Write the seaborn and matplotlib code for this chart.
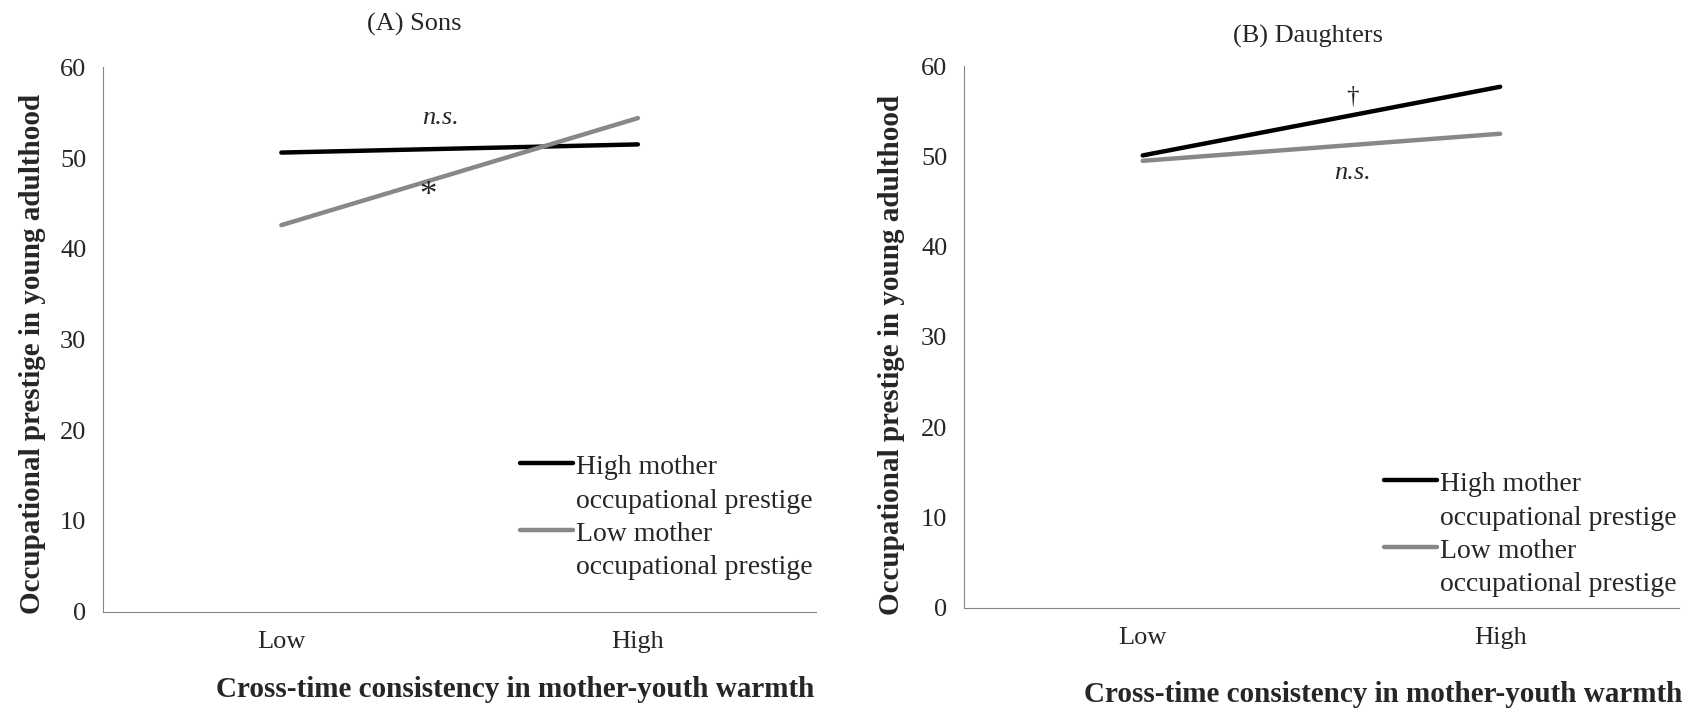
import matplotlib
matplotlib.use("Agg")
import matplotlib.pyplot as plt
import pandas as pd
import seaborn as sns
from matplotlib.legend_handler import HandlerLine2D

# data
warmth = ["Low", "High"]
groups = ["High mother\noccupational prestige", "Low mother\noccupational prestige"]
sons_high = [50.6, 51.5]
sons_low = [42.6, 54.4]
daughters_high = [50.1, 57.7]
daughters_low = [49.5, 52.5]
yticks = [0, 10, 20, 30, 40, 50, 60]

sns.set_style("white")
plt.rcParams["font.family"] = ["Liberation Serif", "DejaVu Serif"]

axis_grey = "#868686"
palette = {groups[0]: "black", groups[1]: "#888888"}


class FirstLineHandler(HandlerLine2D):
    # Excel puts the legend key next to the first line of a wrapped label
    def create_artists(self, legend, orig_handle, xdescent, ydescent, width, height, fontsize, trans):
        artists = super().create_artists(legend, orig_handle, xdescent, ydescent, width, height,
                                         fontsize, trans)
        for a in artists:
            a.set_ydata(a.get_ydata() + fontsize * 0.76)
        return artists


def make_df(high, low):
    return pd.DataFrame({
        "warmth": warmth * 2,
        "prestige": high + low,
        "group": [groups[0]] * 2 + [groups[1]] * 2,
    })


fig = plt.figure(figsize=(17.01, 7.12), dpi=100)
ax1 = fig.add_axes([0.0606, 0.1409, 0.4192, 0.7646])
ax2 = fig.add_axes([0.5667, 0.1461, 0.4203, 0.7612])

panels = [
    (ax1, make_df(sons_high, sons_low), "(A) Sons", (0.436, 1.078), (0.578, -0.143), (-0.0996, 0.473),
     (520, 455)),
    (ax2, make_df(daughters_high, daughters_low), "(B) Daughters", (0.481, 1.054), (0.587, -0.16),
     (-0.1007, 0.467), (1384, 472)),
]

for ax, df, title, tpos, xlpos, ylpos, legpos in panels:
    sns.lineplot(data=df, x="warmth", y="prestige", hue="group", palette=palette,
                 linewidth=3.2, ax=ax, sort=False)
    ax.set_xlim(-0.5, 1.5)
    ax.set_ylim(0, 60)
    ax.set_yticks(yticks)
    ax.set_xticks([0, 1])
    ax.set_xticks([-0.5, 0.5, 1.5], minor=True)
    ax.tick_params(axis="x", which="major", length=0, labelsize=19, pad=14)
    ax.tick_params(axis="x", which="minor", length=6, width=0.8, color=axis_grey, direction="out")
    ax.tick_params(axis="y", length=6, width=0.8, color=axis_grey, direction="out", labelsize=19, pad=6)
    for side in ["top", "right"]:
        ax.spines[side].set_visible(False)
    for side in ["left", "bottom"]:
        ax.spines[side].set_color(axis_grey)
        ax.spines[side].set_linewidth(0.8)

    ax.set_title(title, fontsize=19, x=tpos[0], y=tpos[1], va="center", pad=0)
    ax.set_xlabel("Cross-time consistency in mother-youth warmth", fontsize=21, fontweight="bold")
    ax.xaxis.set_label_coords(*xlpos)
    ax.xaxis.label.set_va("center")
    ax.set_ylabel("Occupational prestige in young adulthood", fontsize=21, fontweight="bold")
    ax.yaxis.set_label_coords(*ylpos)
    ax.yaxis.label.set_va("center")

    handles, labels = ax.get_legend_handles_labels()
    leg = ax.legend(handles, labels, loc="upper left", frameon=False, fontsize=20,
                    bbox_to_anchor=(legpos[0] / 1701, 1 - legpos[1] / 712),
                    bbox_transform=fig.transFigure, borderpad=0, borderaxespad=0,
                    handlelength=1.9, handletextpad=0.1, labelspacing=0.3,
                    handler_map={h: FirstLineHandler() for h in handles})
    for t in leg.get_texts():
        t.set_linespacing(1.45)

# significance marks
ax1.text(0.445, 54.4, "n.s.", fontsize=19, style="italic", ha="center", va="center")
ax1.text(0.412, 45.8, "*", fontsize=25, ha="center", va="center")
ax2.text(0.588, 56.6, "\u2020", fontsize=18, ha="center", va="center")
ax2.text(0.588, 48.2, "n.s.", fontsize=19, style="italic", ha="center", va="center")

fig.savefig("out.png", dpi=100)
